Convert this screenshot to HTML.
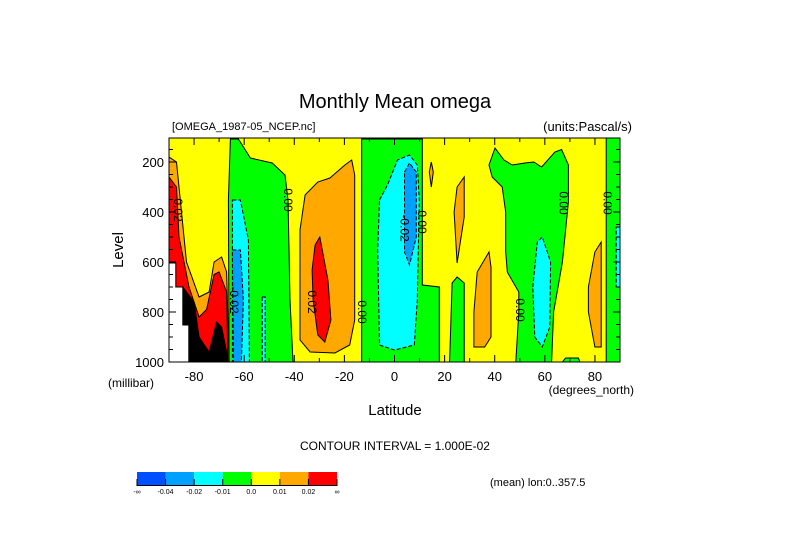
<!DOCTYPE html>
<html><head><meta charset="utf-8">
<style>
html,body{margin:0;padding:0;background:#fff;}
svg{display:block;font-family:"Liberation Sans",sans-serif;}
</style></head>
<body>
<svg id="chart" width="789" height="558" viewBox="0 0 789 558" xmlns="http://www.w3.org/2000/svg">
<rect width="789" height="558" fill="#fff"/>
<text x="395" y="108" font-size="20" text-anchor="middle" fill="#000">Monthly Mean omega</text>
<text x="172" y="130" font-size="11" fill="#000">[OMEGA_1987-05_NCEP.nc]</text>
<text x="632" y="131" font-size="13" text-anchor="end" fill="#000">(units:Pascal/s)</text>
<g id="plot"></g>
<text x="0" y="0" font-size="15" text-anchor="middle" transform="translate(123,250) rotate(-90)">Level</text>
<text x="108" y="387" font-size="12">(millibar)</text>
<text x="634" y="394" font-size="12" text-anchor="end">(degrees_north)</text>
<text x="395" y="415" font-size="15" text-anchor="middle">Latitude</text>
<text x="395" y="450" font-size="12" text-anchor="middle">CONTOUR INTERVAL = 1.000E-02</text>
<g id="cbar"></g>
<text x="490" y="486" font-size="11">(mean) lon:0..357.5</text>
</svg>
<script>
const xTicks=[-80,-60,-40,-20,0,20,40,60,80];
const yTicks=[200,400,600,800,1000];
const cbLabels=["-\u221e","-0.04","-0.02","-0.01","0.0","0.01","0.02","\u221e"];
const cbColors=["#0050ff","#00a0ff","#00ffff","#00ff00","#ffff00","#ffa800","#ff0000"];
const latMin=-90,latMax=90,pTop=104,pBot=1000;
const greenA=[[-65.5,108],[-62.3,108],[-57.5,184],[-48.8,204],[-43.7,252],[-42.5,352],[-41.7,752],[-40.5,1000],[-66,1000],[-66.3,352]];
const cyanA=[[-64.7,352],[-61.5,352],[-58.3,512],[-57.9,1000],[-64.7,1000]];
const blueA=[[-64.7,552],[-61.5,552],[-60.3,752],[-61.1,1000],[-64.3,1000]];
const cyanStreak=[[-52.8,740],[-51.6,740],[-51.6,1000],[-52.8,1000]];
const orangeBig=[[-37.7,472],[-35.7,332],[-30.6,280],[-25.8,264],[-19.8,212],[-17.1,192],[-15.9,252],[-15.9,832],[-17.9,932],[-23.8,964],[-33.7,960],[-37.7,912]];
const redBig=[[-31.7,532],[-29.8,500],[-26.6,672],[-25.4,832],[-27.8,920],[-30.6,892],[-32.5,752],[-32.9,632]];
const greenB=[[-13.1,108],[11.1,108],[11.1,692],[17.9,700],[17.9,1000],[-13.1,1000]];
const cyanB=[[-6,352],[-2.8,292],[1.2,192],[6,172],[9.1,212],[9.9,352],[9.1,752],[7.9,932],[0,952],[-6,932],[-6.7,552]];
const blueB=[[4,240],[6,204],[8.7,240],[8.7,500],[6,612],[4,560]];
const orange1=[[13.9,240],[14.7,200],[15.5,240],[14.7,300]];
const orange2=[[23.8,400],[25,300],[27.8,260],[27.8,420],[25,604]];
const orange3=[[31.7,800],[33,640],[37.7,560],[38.5,620],[38.5,900],[36,940],[31.7,940]];
const greenC=[[37.7,212],[40.1,144],[43.7,192],[47,212],[52,204],[55.6,200],[58.7,220],[64,160],[66.7,150],[69.4,212],[69.4,360],[67,600],[63.5,800],[62.7,1000],[48.4,1000],[49.6,800],[49.6,720],[45,640],[44.4,560],[44.4,400],[43,300],[39,260]];
const cyanC=[[55.2,700],[57,520],[59,500],[62.3,600],[62,860],[59,940],[56,900]];
const orange4=[[77.4,700],[80,560],[82.5,520],[82.5,940],[80,940],[77.4,800]];
const greenR=[[84.5,104],[90,104],[90,1000],[84.5,1000]];
const cyanR=[[88.5,460],[90,460],[90,700],[88.5,700]];
const greenS1=[[23,684],[25,660],[27.8,684],[27.8,1000],[22,1000]];
const greenS2=[[68.3,984],[73.4,984],[74,1000],[67,1000]];
const orangeL=[[-90,180],[-87,200],[-85,400],[-83,600],[-78,740],[-74,720],[-72,600],[-69,580],[-67,640],[-66,1000],[-90,1000]];
const redL=[[-90,260],[-87,300],[-86,500],[-82,700],[-78,820],[-75,790],[-72,650],[-70,640],[-67,720],[-66.5,1000],[-90,1000]];
const blackL=[[-84.5,700],[-80,760],[-78,900],[-74,960],[-71,840],[-69,860],[-67,960],[-66.5,1000],[-84.5,1000]];
const whiteL=[[-90,604],[-87.3,604],[-87.3,700],[-84.5,700],[-84.5,852],[-82.1,852],[-82.1,1000],[-90,1000]];
const labels=[[-33,760,"0.02"],[-42.5,352,"0.00"],[-13,800,"0.00"],[4,464,"-0.02"],[11,440,"0.00"],[50,792,"0.00"],[67.5,364,"0.00"],[85,364,"0.00"],[-64,752,"-0.02"],[-86.5,392,"0.02"]];
const X0=169,X1=620,Y0=138,Y1=362;
const xs=l=>X0+(l-latMin)/(latMax-latMin)*(X1-X0);
const ys=p=>Y1-(pBot-p)/(pBot-pTop)*(Y1-Y0);
const NS="http://www.w3.org/2000/svg";
const plot=document.getElementById('plot');
function mk(t,a,parent){const e=document.createElementNS(NS,t);for(const k in a)e.setAttribute(k,a[k]);(parent||plot).appendChild(e);return e;}
const bg=mk('rect',{x:X0,y:Y0,width:X1-X0,height:Y1-Y0,fill:'#ffff00'});


const cp=mk('clipPath',{id:'clip'});mk('rect',{x:X0,y:Y0,width:X1-X0,height:Y1-Y0},cp);
const g=mk('g',{'clip-path':'url(#clip)'});
const regions=[["green-region-a",greenA,cbColors[3],0],["cyan-region-a",cyanA,cbColors[2],1],["blue-region-a",blueA,cbColors[1],1],["cyan-streak",cyanStreak,cbColors[2],1],
["orange-region-big",orangeBig,cbColors[5],0],["red-region-big",redBig,cbColors[6],0],["green-region-b",greenB,cbColors[3],0],["cyan-region-b",cyanB,cbColors[2],1],["blue-region-b",blueB,cbColors[1],1],
["orange-region-1",orange1,cbColors[5],0],["orange-region-2",orange2,cbColors[5],0],["orange-region-3",orange3,cbColors[5],0],["green-region-c",greenC,cbColors[3],0],["cyan-region-c",cyanC,cbColors[2],1],
["orange-region-4",orange4,cbColors[5],0],["green-region-right",greenR,cbColors[3],0],["cyan-region-right",cyanR,cbColors[2],1],["green-strip-1",greenS1,cbColors[3],0],["green-strip-2",greenS2,cbColors[3],0],
["orange-region-polar",orangeL,cbColors[5],0],["red-region-polar",redL,cbColors[6],0],["black-contours-polar",blackL,"#000",0],["topography-mask",whiteL,"#fff",0]];
for(const r of regions){
 const pts=r[1].map(q=>xs(q[0]).toFixed(1)+','+ys(q[1]).toFixed(1)).join(' ');
 const e=mk('polygon',{points:pts,fill:r[2],stroke:'#000','stroke-width':1,'stroke-dasharray':r[3]?'4,2':'none'},g);
 
 
}
for(const L of labels){
 const x=xs(L[0]),y=ys(L[1]);
 const t=mk('text',{x:0,y:0,'font-size':12,'text-anchor':'middle',transform:`translate(${x},${y}) rotate(90)`,dy:'4'},g);
 t.textContent=L[2];
 
 
}
const fr=mk('rect',{x:X0,y:Y0,width:X1-X0,height:Y1-Y0,fill:'none',stroke:'#000','stroke-width':1});


for(let l=-90;l<=90;l+=10){const major=l%20===0;
 mk('line',{x1:xs(l),x2:xs(l),y1:Y1,y2:Y1-(major?7:4),stroke:'#000'});
 mk('line',{x1:xs(l),x2:xs(l),y1:Y0,y2:Y0+(major?7:4),stroke:'#000'});}
for(let p=150;p<=1000;p+=50){const major=p%200===0;
 mk('line',{x1:X0,x2:X0+(major?7:4),y1:ys(p),y2:ys(p),stroke:'#000'});
 mk('line',{x1:X1,x2:X1-(major?7:4),y1:ys(p),y2:ys(p),stroke:'#000'});}
for(const v of xTicks){const t=mk('text',{x:xs(v),y:381,'font-size':13,'text-anchor':'middle'});t.textContent=v;
 
 }
for(const v of yTicks){const t=mk('text',{x:164,y:ys(v)+5,'font-size':13,'text-anchor':'end'});t.textContent=v;
 
 }
const cb=document.getElementById('cbar');const bw=200/cbColors.length;
cbColors.forEach((c,i)=>{const r=mk('rect',{x:137+i*bw,y:472,width:bw,height:13,fill:c},cb);
 
 
 mk('line',{x1:137+i*bw,x2:137+i*bw,y1:479,y2:486,stroke:'#000'},cb);});
mk('line',{x1:337,x2:337,y1:479,y2:486,stroke:'#000'},cb);
mk('line',{x1:137,x2:337,y1:485.5,y2:485.5,stroke:'#000'},cb);
cbLabels.forEach((s,i)=>{const t=mk('text',{x:137+i*bw,y:494,'font-size':7,'text-anchor':'middle'},cb);t.textContent=s;
 
 });
</script>
</body></html>
